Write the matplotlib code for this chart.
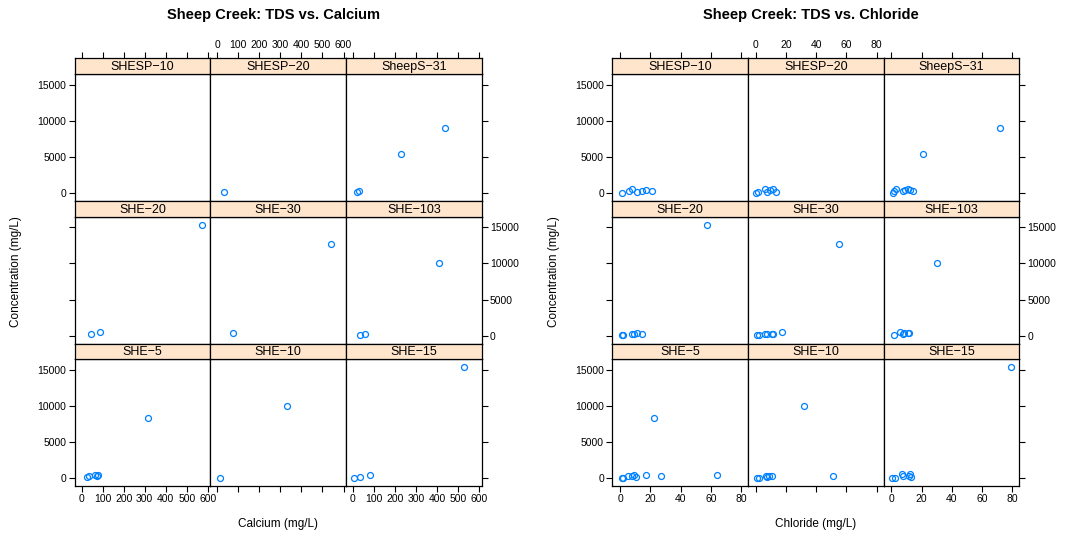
import matplotlib
matplotlib.use("Agg")
import matplotlib.pyplot as plt
import pandas as pd

plt.rcParams['font.family'] = ['Liberation Sans', 'DejaVu Sans']

# panel order, lattice style (top row first)
sites = ['SHESP-10', 'SHESP-20', 'SheepS-31',
         'SHE-20', 'SHE-30', 'SHE-103',
         'SHE-5', 'SHE-10', 'SHE-15']

# calcium vs TDS (long format)
ca_site = ['SHESP-20',
           'SheepS-31', 'SheepS-31', 'SheepS-31', 'SheepS-31',
           'SHE-20', 'SHE-20', 'SHE-20',
           'SHE-30', 'SHE-30',
           'SHE-103', 'SHE-103', 'SHE-103',
           'SHE-5', 'SHE-5', 'SHE-5', 'SHE-5', 'SHE-5', 'SHE-5',
           'SHE-10', 'SHE-10',
           'SHE-15', 'SHE-15', 'SHE-15', 'SHE-15']
ca_mgl = [32,
          21, 28, 229, 438,
          43, 89, 573,
          76, 541,
          35, 55, 407,
          25, 35, 63, 72, 79, 314,
          11, 329,
          5, 32, 83, 527]
ca_tds = [180,
          180, 360, 5450, 9000,
          230, 470, 15330,
          410, 12750,
          190, 330, 10050,
          180, 360, 450, 400, 470, 8340,
          40, 10050,
          40, 220, 450, 15360]

# chloride vs TDS (long format)
cl_site = (['SHESP-10'] * 7 + ['SHESP-20'] * 7 + ['SheepS-31'] * 10 +
           ['SHE-20'] * 7 + ['SHE-30'] * 8 + ['SHE-103'] * 7 +
           ['SHE-5'] * 10 + ['SHE-10'] * 8 + ['SHE-15'] * 8)
cl_mgl = [1.1, 6.2, 7.7, 11.4, 14.4, 17.2, 21,
          0.4, 1.7, 6.3, 7.7, 9.5, 11.6, 13.4,
          0.9, 1.7, 2.8, 7.5, 9, 10.8, 12.4, 14.6, 20.7, 71.6,
          1.1, 2.2, 7.9, 9.3, 11, 14.5, 57.2,
          1.1, 2, 6.4, 7.3, 10.6, 11.6, 17.4, 55.1,
          1.5, 5.9, 7.5, 8.3, 10.8, 11.6, 30.1,
          1.1, 2.2, 5.5, 8.1, 9.5, 10.8, 17.2, 22.3, 27.3, 64.1,
          0.9, 2.2, 6.8, 7.7, 9, 11, 32.1, 51.2,
          0.6, 2.4, 7, 7.5, 11.6, 12.3, 12.8, 79.1]
cl_tds = [80, 320, 550, 180, 320, 410, 360,
          40, 140, 550, 180, 450, 550, 220,
          40, 360, 550, 320, 450, 550, 410, 320, 5450, 8990,
          140, 100, 330, 330, 410, 230, 15330,
          55, 140, 330, 330, 330, 330, 550, 12750,
          95, 510, 230, 410, 410, 410, 10050,
          40, 40, 320, 410, 500, 220, 500, 8340, 360, 500,
          40, 40, 320, 140, 410, 320, 10050, 410,
          40, 40, 590, 360, 410, 590, 140, 15360]

ca_ticks = [0, 100, 200, 300, 400, 500, 600]
cl_ticks = [0, 20, 40, 60, 80]
y_ticks = [0, 5000, 10000, 15000]

W, H = 1068, 537
fig = plt.figure(figsize=(W / 100, H / 100), dpi=100)


def rect(left, top, w, h):
    return [left / W, 1 - (top + h) / H, w / W, h / H]


def lattice(df, x0, xlim, xticks, title, xlabel):
    pw, sh, ph, pitch, top0 = 135.67, 15.7, 126.9, 142.6, 58.3
    for i, site in enumerate(sites):
        r, c = divmod(i, 3)
        stop = top0 + r * pitch
        ax = fig.add_axes(rect(x0 + c * pw, stop + sh, pw, ph))
        st = fig.add_axes(rect(x0 + c * pw, stop, pw, sh), sharex=ax)
        d = df[df.site == site]
        ax.plot(d.x, d.tds, 'o', mfc='none', mec='#0080ff', ms=4.3, mew=0.9)
        ax.set_xlim(xlim)
        ax.set_ylim(-1050, 16470)
        ax.set_xticks(xticks)
        ax.set_yticks(y_ticks)
        for a in (ax, st):
            for s in a.spines.values():
                s.set_linewidth(0.9)
            a.tick_params(direction='out', length=4, width=0.8, labelsize=7.5,
                          pad=2, left=False, right=False, top=False, bottom=False,
                          labelleft=False, labelright=False, labeltop=False,
                          labelbottom=False)
        st.set_facecolor('#ffe5cc')
        st.set_ylim(0, 1)
        st.set_yticks([])
        st.text(0.5, 0.45, site.replace('-', '\u2212'), transform=st.transAxes,
                ha='center', va='center', fontsize=9)
        if r == 0:
            st.tick_params(top=True, labeltop=(c == 1))
        if r == 2:
            ax.tick_params(bottom=True, labelbottom=(c != 1))
        if c == 0:
            ax.tick_params(left=True, labelleft=(r != 1))
        if c == 2:
            ax.tick_params(right=True, labelright=(r == 1))
    mid = x0 + 1.5 * pw
    fig.text((mid - 4.5) / W, 1 - 15 / H, title, ha='center', va='center',
             fontsize=10.5, fontweight='bold')
    fig.text(mid / W, 1 - 524 / H, xlabel, ha='center', va='center', fontsize=8.5)
    fig.text((x0 - 58.5) / W, 1 - 272 / H, 'Concentration (mg/L)', rotation=90,
             ha='center', va='center', fontsize=8.5)


ca = pd.DataFrame({'site': ca_site, 'x': ca_mgl, 'tds': ca_tds})
cl = pd.DataFrame({'site': cl_site, 'x': cl_mgl, 'tds': cl_tds})

lattice(ca, 74.7, (-33, 612), ca_ticks, 'Sheep Creek: TDS vs. Calcium', 'Calcium (mg/L)')
lattice(cl, 612.3, (-5.1, 84.6), cl_ticks, 'Sheep Creek: TDS vs. Chloride', 'Chloride (mg/L)')

fig.savefig('out.png', dpi=100)
